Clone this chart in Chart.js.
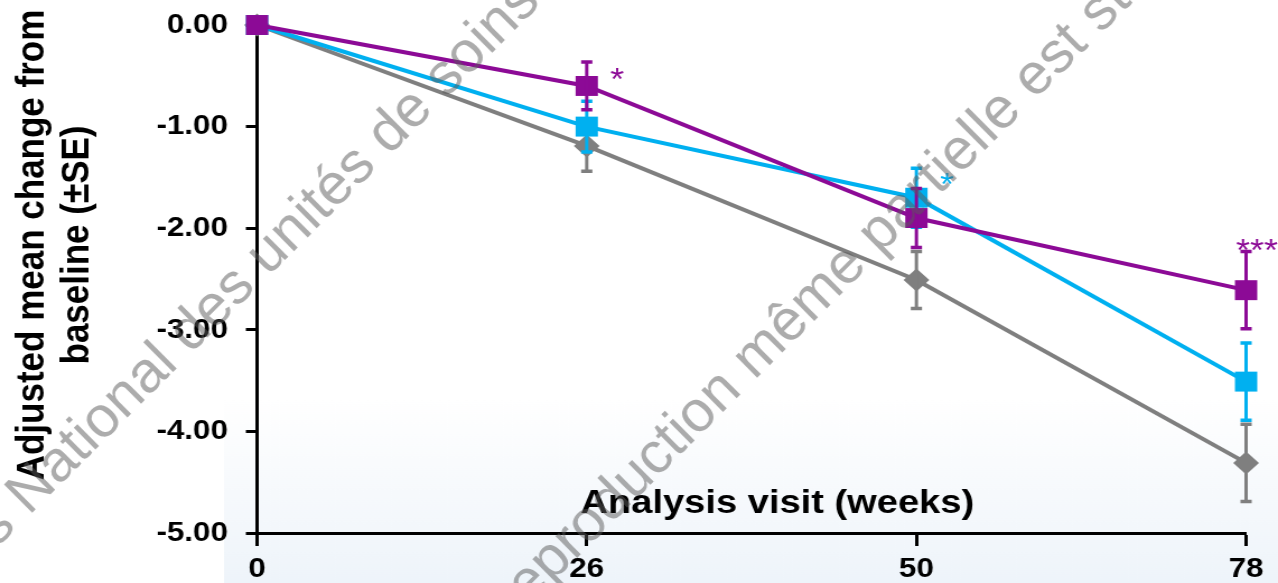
<!DOCTYPE html>
<html>
<head>
<meta charset="utf-8">
<script src="https://cdn.jsdelivr.net/npm/chart.js@4/dist/chart.umd.min.js"></script>
<style>
html,body{margin:0;padding:0;background:#fff;overflow:hidden}
#c{display:block}
</style>
</head>
<body>
<canvas id="c" width="1141" height="583" style="width:1278px;height:583px"></canvas>
<script>
// ---- data ----
const weeks = ['0', '26', '50', '78'];
const yTickValues = [0, -1, -2, -3, -4, -5];
const purpleMean = [0, -0.60, -1.90, -2.61];
const purpleSE   = [0, 0.235, 0.29, 0.38];
const cyanMean   = [0, -1.00, -1.70, -3.51];
const cyanSE     = [0, 0.25, 0.29, 0.38];
const grayMean   = [0, -1.19, -2.51, -4.31];
const graySE     = [0, 0.25, 0.28, 0.38];
const sigLabels  = ['*', '*', '***'];
const sigSeries  = [0, 1, 0];   // dataset index
const sigIndex   = [1, 2, 3];   // visit index
const yTitleLines = ['Adjusted mean change from', 'baseline (±SE)'];
const xTitleText = 'Analysis visit (weeks)';
const watermarkLines = ['s National des unités de soins', 'reproduction même partielle est st'];

// ---- style / layout ----
const K = 1278 / 1141;           // horizontal stretch of the picture
const FONT = '"Liberation Sans", Arial, Helvetica, sans-serif';
const PURPLE = '#8c0a96', CYAN = '#00b0f0', GRAY = '#7f7f7f';
const seList = [purpleSE, cyanSE, graySE];

const bgPlugin = {
  id: 'bg',
  beforeDraw(chart) {
    const ctx = chart.ctx;
    ctx.save();
    ctx.fillStyle = '#ffffff';
    ctx.fillRect(0, 0, chart.width, chart.height);
    const g = ctx.createLinearGradient(0, 400, 0, 583);
    g.addColorStop(0, 'rgba(238,244,250,0)');
    g.addColorStop(1, 'rgba(238,244,250,1)');
    ctx.fillStyle = g;
    ctx.fillRect(200, 400, chart.width - 200, 183);
    ctx.restore();
  }
};

const errorBarPlugin = {
  id: 'errorBars',
  afterDatasetDraw(chart, args) {
    const i = args.index;
    const ds = chart.data.datasets[i];
    const se = seList[i];
    const meta = args.meta;
    const ys = chart.scales.y;
    const ctx = chart.ctx;
    ctx.save();
    ctx.strokeStyle = ds.borderColor;
    meta.data.forEach((pt, j) => {
      if (!se[j]) return;
      const v = ds.data[j];
      const yTop = ys.getPixelForValue(v + se[j]);
      const yBot = ys.getPixelForValue(v - se[j]);
      const x = pt.x;
      ctx.lineWidth = 3;
      ctx.beginPath();
      ctx.moveTo(x, yTop); ctx.lineTo(x, yBot);
      ctx.stroke();
      ctx.lineWidth = 3.5;
      ctx.beginPath();
      ctx.moveTo(x - 5, yTop); ctx.lineTo(x + 5, yTop);
      ctx.moveTo(x - 5, yBot); ctx.lineTo(x + 5, yBot);
      ctx.stroke();
    });
    ctx.restore();
  }
};

const textPlugin = {
  id: 'texts',
  afterDraw(chart) {
    const ctx = chart.ctx;
    ctx.save();
    // y title (two rotated lines)
    ctx.fillStyle = '#000';
    ctx.font = 'bold 35px ' + FONT;
    ctx.textAlign = 'center';
    ctx.textBaseline = 'alphabetic';
    const yBase = [39, 79];
    yTitleLines.forEach((t, k) => {
      ctx.save();
      ctx.translate(yBase[k], 245);
      ctx.rotate(-Math.PI / 2);
      ctx.fillText(t, 0, 0);
      ctx.restore();
    });
    // x title inside plot
    ctx.font = 'bold 34px ' + FONT;
    ctx.fillText(xTitleText, 694, 513);
    // significance stars
    const offs = [[21, -14], [21, -21], [-9, -47]];
    ctx.font = '32px ' + FONT;
    ctx.textAlign = 'left';
    sigLabels.forEach((lab, k) => {
      const dsi = sigSeries[k];
      const pt = chart.getDatasetMeta(dsi).data[sigIndex[k]];
      ctx.fillStyle = chart.data.datasets[dsi].borderColor;
      ctx.fillText(lab, pt.x + offs[k][0], pt.y + offs[k][1] + 18);
    });
    // watermark (drawn in un-stretched picture coordinates)
    ctx.scale(1 / K, 1);
    ctx.font = '58px ' + FONT;
    ctx.fillStyle = 'rgba(90,90,90,0.5)';
    ctx.textAlign = 'left';
    const wm = [[-3, 548], [515, 620]];
    watermarkLines.forEach((t, k) => {
      ctx.save();
      ctx.translate(wm[k][0], wm[k][1]);
      ctx.rotate(-Math.PI / 4);
      ctx.fillText(t, 0, 0);
      ctx.restore();
    });
    ctx.restore();
  }
};

function series(label, data, color, style, radius) {
  return {
    label, data,
    borderColor: color, backgroundColor: color,
    pointBackgroundColor: color, pointBorderColor: color,
    pointBorderWidth: 0, pointStyle: style, pointRadius: radius, pointHoverRadius: radius,
    borderWidth: 4, tension: 0, clip: false, fill: false
  };
}

new Chart(document.getElementById('c'), {
  type: 'line',
  data: {
    labels: weeks,
    datasets: [
      series('Purple', purpleMean, PURPLE, 'rect', 14.1),
      series('Cyan', cyanMean, CYAN, 'rect', 14.1),
      series('Gray', grayMean, GRAY, 'rectRot', 11.5)
    ]
  },
  options: {
    responsive: false,
    animation: false,
    devicePixelRatio: 1,
    layout: { padding: { left: 0, top: 25, right: 28.5, bottom: 0 } },
    plugins: { legend: { display: false }, tooltip: { enabled: false } },
    scales: {
      x: {
        type: 'category',
        offset: false,
        grid: { drawOnChartArea: false, drawTicks: true, tickLength: 13, tickWidth: 3, tickColor: '#000' },
        border: { display: true, color: '#000', width: 3 },
        ticks: { color: '#000', font: { family: FONT, size: 28, weight: 'bold' }, padding: 6, maxRotation: 0, autoSkip: false },
        afterFit(s) { s.height = 50; s.paddingLeft = 0; s.paddingRight = 0; }
      },
      y: {
        min: -5, max: 0,
        afterBuildTicks(s) { s.ticks = yTickValues.map(v => ({ value: v })); },
        grid: { drawOnChartArea: false, drawTicks: true, tickLength: 10, tickWidth: 3, tickColor: '#000' },
        border: { display: true, color: '#000', width: 3 },
        ticks: { color: '#000', font: { family: FONT, size: 28, weight: 'bold' }, padding: 16, callback: v => Number(v).toFixed(2) },
        afterFit(s) { s.width = 229.5; s.paddingTop = 0; s.paddingBottom = 0; }
      }
    }
  },
  plugins: [bgPlugin, errorBarPlugin, textPlugin]
});
</script>
</body>
</html>
